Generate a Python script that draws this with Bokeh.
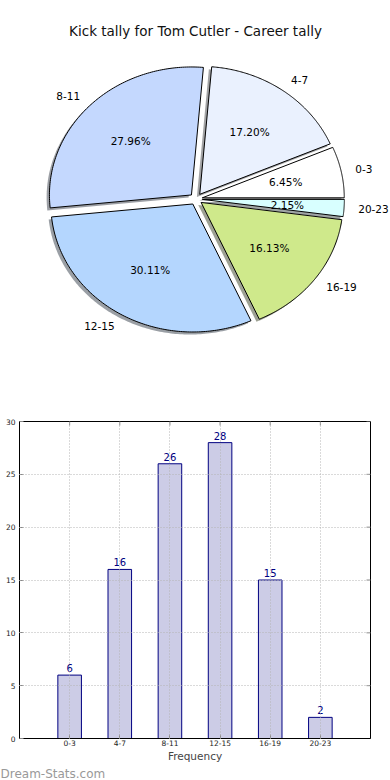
import numpy as np
from bokeh.plotting import figure
from bokeh.layouts import column
from bokeh.models import Range1d, FixedTicker, Label, Title, ColumnDataSource
from bokeh.embed import file_html
from bokeh.resources import INLINE

# ---------------- data ----------------
title_text = "Kick tally for Tom Cutler - Career tally"
categories = ["0-3", "4-7", "8-11", "12-15", "16-19", "20-23"]
counts = [6, 16, 26, 28, 15, 2]
y_ticks = [0, 5, 10, 15, 20, 25, 30]
x_label = "Frequency"
watermark = "Dream-Stats.com"

# ---------------- style ----------------
slice_colors = ["#ffffff", "#eaf1fe", "#c4d8fe", "#b4d6fe", "#cfe98b", "#d8ffff"]
FONT = "DejaVu Sans"
W = 390
PIE_H = 380
BAR_H = 400
RX, RY = 142.0, 128.0          # pixel size of one radius unit
CX, CY = 195.5, 198.5          # pie centre, px from frame top-left
EXPLODE = 0.045
SHADOW = 0.02

# ---------------- pie ----------------
pie = figure(width=W, height=PIE_H, output_backend="svg", toolbar_location=None,
             x_range=Range1d(-CX / RX, (W - CX) / RX),
             y_range=Range1d(-(PIE_H - CY) / RY, CY / RY),
             x_axis_type=None, y_axis_type=None, min_border=0)
pie.frame_align = False
pie.grid.visible = False
pie.outline_line_color = None

total = float(sum(counts))
fracs = np.array(counts) / total
edges = np.concatenate([[0.0], np.cumsum(fracs)]) * 2 * np.pi

def darker(hexcol, f=0.3):
    h = hexcol.lstrip("#")
    r, g, b = (int(h[i:i + 2], 16) for i in (0, 2, 4))
    return "#%02x%02x%02x" % (int(r * f), int(g * f), int(b * f))

sl_xs, sl_ys, sh_xs, sh_ys = [], [], [], []
lab_x, lab_y, lab_t, lab_al = [], [], [], []
pct_x, pct_y, pct_t = [], [], []
for i, cat in enumerate(categories):
    t0, t1 = edges[i], edges[i + 1]
    mid = 0.5 * (t0 + t1)
    ox, oy = EXPLODE * np.cos(mid), EXPLODE * np.sin(mid)
    t = np.linspace(t0, t1, 120)
    xs = np.concatenate([[ox], ox + np.cos(t)])
    ys = np.concatenate([[oy], oy + np.sin(t)])
    sl_xs.append(list(xs)); sl_ys.append(list(ys))
    sh_xs.append(list(xs - SHADOW)); sh_ys.append(list(ys - SHADOW))
    lx, ly = ox + 1.1 * np.cos(mid), oy + 1.1 * np.sin(mid)
    lab_x.append(lx); lab_y.append(ly); lab_t.append(cat)
    lab_al.append("left" if lx > 0 else "right")
    pct_x.append(ox + 0.6 * np.cos(mid)); pct_y.append(oy + 0.6 * np.sin(mid))
    pct_t.append("%.2f%%" % (100 * fracs[i]))

pie.patches(xs=sh_xs, ys=sh_ys, fill_color=[darker(c) for c in slice_colors],
            fill_alpha=0.5, line_color=None)
pie.patches(xs=sl_xs, ys=sl_ys, fill_color=slice_colors, line_color="black",
            line_width=1)

lab_src = ColumnDataSource(dict(x=lab_x, y=lab_y, text=lab_t, align=lab_al))
pie.text(x="x", y="y", text="text", text_align="align", source=lab_src,
         text_baseline="middle", text_font={"value": FONT},
         text_font_size="10.5px", text_color="black")
pie.text(x=pct_x, y=pct_y, text=pct_t, text_align="center",
         text_baseline="middle", text_font={"value": FONT},
         text_font_size="10.5px", text_color="black")

pie.add_layout(Label(x=W / 2, y=PIE_H - 30, x_units="screen", y_units="screen",
                     text=title_text, text_align="center", text_baseline="middle",
                     text_font=FONT, text_font_size="13.5px", text_color="#111111"))

# ---------------- bars ----------------
n = len(categories)
xs_bar = list(range(1, n + 1))
bar = figure(width=W, height=BAR_H, output_backend="svg", toolbar_location=None,
             x_range=Range1d(0, n + 1),
             y_range=Range1d(y_ticks[0], y_ticks[-1]),
             min_border_left=19, min_border_right=20, min_border_top=41,
             min_border_bottom=40)
bar.frame_align = False
bar.outline_line_color = "black"
bar.outline_line_width = 1

bar.vbar(x=xs_bar, top=counts, width=0.47, fill_color="#000080", fill_alpha=0.2,
         line_color="#000080", line_width=1)
bar.text(x=xs_bar, y=counts, text=[str(c) for c in counts], text_align="center",
         text_baseline="bottom", y_offset=-3, text_font={"value": FONT},
         text_font_size="10px", text_color="#000080")

xt = FixedTicker(ticks=xs_bar)
yt = FixedTicker(ticks=y_ticks)
bar.xaxis.ticker = xt
bar.yaxis.ticker = yt
bar.xaxis.major_label_overrides = {x: c for x, c in zip(xs_bar, categories)}
bar.xgrid.ticker = xt
bar.ygrid.ticker = yt
for g in (bar.xgrid, bar.ygrid):
    g.grid_line_color = "#b4b4b4"
    g.grid_line_dash = "1 2"
    g.grid_line_width = 1
    g.level = "annotation"

for ax in (bar.xaxis, bar.yaxis):
    ax.major_tick_in = 4
    ax.major_tick_out = 0
    ax.minor_tick_in = 0
    ax.minor_tick_out = 0
    ax.major_tick_line_color = "#888888"
    ax.axis_line_color = "black"
    ax.major_label_text_font = FONT
    ax.major_label_text_font_size = "7.5px"
    ax.major_label_text_color = "#222222"
bar.xaxis.major_label_standoff = 1
bar.yaxis.major_label_standoff = 4
bar.xaxis.axis_label = x_label
bar.xaxis.axis_label_text_font = FONT
bar.xaxis.axis_label_text_font_size = "10.5px"
bar.xaxis.axis_label_text_font_style = "normal"
bar.xaxis.axis_label_standoff = 1

# inward ticks on the top and right edges (frame clips the outer half)
bar.scatter(x=xs_bar, y=[y_ticks[-1]] * n, marker="dash", angle=np.pi / 2, size=8,
            line_color="#888888", line_width=1)
bar.scatter(x=[n + 1] * len(y_ticks), y=y_ticks, marker="dash", size=8,
            line_color="#888888", line_width=1)

bar.add_layout(Title(text=watermark, align="left", offset=-19, standoff=0,
                     text_font=FONT, text_font_size="12px", text_color="#999999",
                     text_font_style="normal"), "below")

layout = column(pie, bar)
open("out.html", "w").write(file_html(layout, INLINE))
